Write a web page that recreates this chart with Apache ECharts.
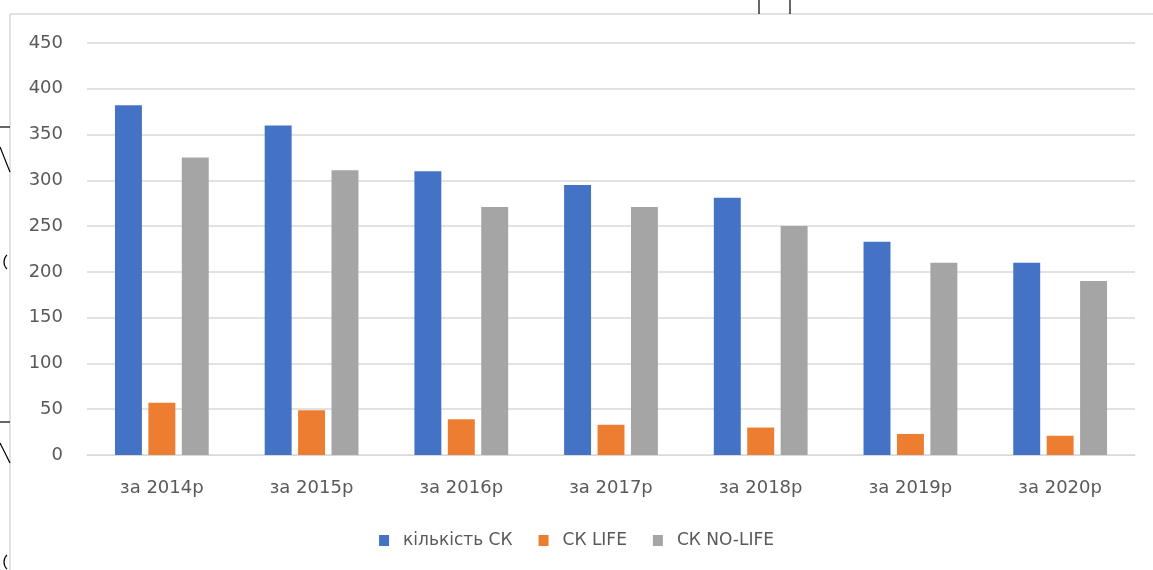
<!DOCTYPE html>
<html>
<head>
<meta charset="utf-8">
<script src="https://cdn.jsdelivr.net/npm/echarts@6/dist/echarts.min.js"></script>
<style>html,body{margin:0;padding:0;background:#fff;}#c{width:1153px;height:570px;}</style>
</head>
<body>
<div id="c"></div>
<script>
const categories = ['за 2014р','за 2015р','за 2016р','за 2017р','за 2018р','за 2019р','за 2020р'];
const seriesNames = ['кількість СК','СК LIFE','СК NO-LIFE'];
const totalSK = [382, 360, 310, 295, 281, 233, 210];
const lifeSK = [57, 49, 39, 33, 30, 23, 21];
const nonLifeSK = [325, 311, 271, 271, 250, 210, 190];
const colors = ['#4472C4','#ED7D31','#A5A5A5'];

const chart = echarts.init(document.getElementById('c'));
const font = 'DejaVu Sans';
chart.setOption({
  animation:false,
  color: colors,
  grid:{left:87,right:18,top:43,bottom:115},
  legend:{
    bottom:16,left:'center',itemWidth:10,itemHeight:11,itemGap:26,icon:'rect',
    textStyle:{fontFamily:font,fontSize:17,color:'#595959',padding:[0,0,0,9]},
    data: seriesNames
  },
  xAxis:{
    type:'category',data:categories,
    axisLine:{lineStyle:{color:'#d9d9d9'}},axisTick:{show:false},
    axisLabel:{fontFamily:font,fontSize:18,color:'#595959',margin:24}
  },
  yAxis:{
    type:'value',min:0,max:450,interval:50,
    axisLine:{show:false},axisTick:{show:false},
    splitLine:{lineStyle:{color:'#d9d9d9',width:1.5}},
    axisLabel:{fontFamily:font,fontSize:18,color:'#595959',margin:24}
  },
  series:[
    {name:seriesNames[0],type:'bar',data:totalSK,barWidth:'18%',barGap:'24%'},
    {name:seriesNames[1],type:'bar',data:lifeSK,barWidth:'18%',barGap:'24%'},
    {name:seriesNames[2],type:'bar',data:nonLifeSK,barWidth:'18%',barGap:'24%'}
  ],
  graphic:[
    {type:'line',shape:{x1:10,y1:14,x2:1153,y2:14},style:{stroke:'#d9d9d9',lineWidth:1.5}},
    {type:'line',shape:{x1:10,y1:14,x2:10,y2:570},style:{stroke:'#d9d9d9',lineWidth:1.5}},
    {type:'line',shape:{x1:759,y1:0,x2:759,y2:14},style:{stroke:'#000',lineWidth:1.2}},
    {type:'line',shape:{x1:790,y1:0,x2:790,y2:14},style:{stroke:'#000',lineWidth:1.2}},
    {type:'line',shape:{x1:0,y1:127,x2:10,y2:127},style:{stroke:'#000',lineWidth:1.2}},
    {type:'line',shape:{x1:0,y1:147,x2:10,y2:172},style:{stroke:'#000',lineWidth:1.2}},
    {type:'line',shape:{x1:0,y1:422,x2:10,y2:422},style:{stroke:'#000',lineWidth:1.2}},
    {type:'line',shape:{x1:0,y1:443,x2:10,y2:463},style:{stroke:'#000',lineWidth:1.2}},
    {type:'arc',shape:{cx:14,cy:262,r:10,startAngle:Math.PI*0.75,endAngle:Math.PI*1.25},style:{stroke:'#000',fill:'none',lineWidth:1.2}},
    {type:'arc',shape:{cx:14,cy:562,r:10,startAngle:Math.PI*0.75,endAngle:Math.PI*1.25},style:{stroke:'#000',fill:'none',lineWidth:1.2}}
  ]
});
</script>
</body>
</html>
